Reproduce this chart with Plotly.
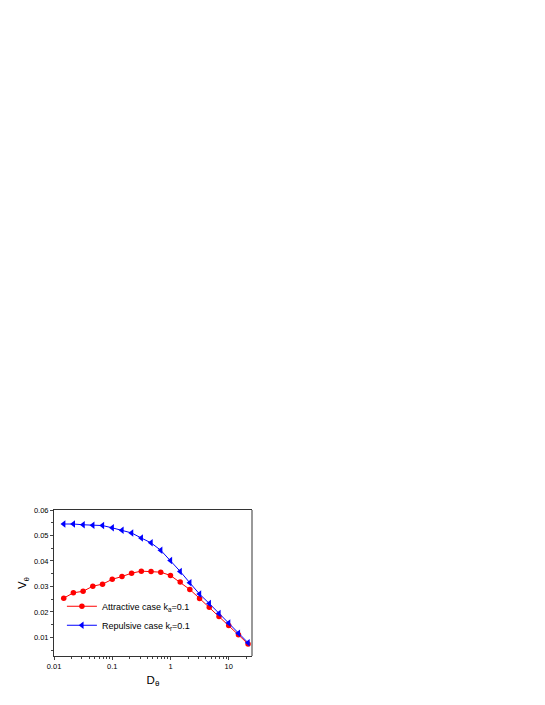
import plotly.graph_objects as go

# D_theta values (log spaced)
d_theta = [0.0147, 0.0215, 0.0316, 0.0464, 0.0681, 0.1, 0.147, 0.215, 0.316, 0.464,
           0.681, 1.0, 1.47, 2.15, 3.16, 4.64, 6.81, 10.0, 14.7, 21.5]

v_attractive = [0.0254, 0.0275, 0.0281, 0.0301, 0.0309, 0.0328, 0.0339, 0.0352, 0.0360, 0.0359,
                0.0356, 0.0343, 0.0317, 0.0288, 0.0253, 0.0218, 0.0182, 0.0147, 0.0110, 0.0074]

v_repulsive = [0.0545, 0.0545, 0.0542, 0.0540, 0.0539, 0.0530, 0.0521, 0.0510, 0.0490, 0.0471,
               0.0442, 0.0402, 0.0359, 0.0314, 0.0270, 0.0233, 0.0194, 0.0157, 0.0116, 0.0079]

fig = go.Figure()

fig.add_trace(go.Scatter(x=d_theta, y=v_attractive, mode='lines+markers',
                         name='Attractive case k<sub>a</sub>=0.1',
                         line={'width': 1, 'color': '#ff0000'},
                         marker={'symbol': 'circle', 'size': 5.5, 'color': '#ff0000'}))
fig.add_trace(go.Scatter(x=d_theta, y=v_repulsive, mode='lines+markers',
                         name='Repulsive case k<sub>r</sub>=0.1',
                         line={'width': 1, 'color': '#0000ff'},
                         marker={'symbol': 'triangle-left', 'size': 6.5, 'color': '#0000ff'}))

# grey right border like the original
fig.add_shape(type='line', xref='paper', yref='paper', x0=1, x1=1, y0=0, y1=1,
              line={'color': '#999999', 'width': 2})

# page body adds an 8px offset, margins compensate for it
fig.update_layout(
    width=545, height=705,
    margin={'l': 46, 'r': 301, 't': 502, 'b': 57, 'autoexpand': False},
    paper_bgcolor='white', plot_bgcolor='white',
    font={'family': 'Liberation Sans, Arial', 'color': 'black', 'size': 7.5},
    showlegend=True,
    legend={'x': 0.04, 'y': 0.44, 'xanchor': 'left', 'yanchor': 'top',
            'bgcolor': 'rgba(0,0,0,0)', 'font': {'size': 9},
            'itemwidth': 30, 'tracegroupgap': 0},
    xaxis={'type': 'log', 'range': [-2, 1.4], 'automargin': False,
           'tickvals': [0.01, 0.1, 1, 10], 'ticktext': ['0.01', '0.1', '1', '10'],
           'ticks': 'outside', 'ticklen': 3, 'tickwidth': 1,
           'minor': {'ticks': 'outside', 'ticklen': 2,
                     'tickvals': [0.02, 0.03, 0.04, 0.05, 0.06, 0.07, 0.08, 0.09,
                                  0.2, 0.3, 0.4, 0.5, 0.6, 0.7, 0.8, 0.9,
                                  2, 3, 4, 5, 6, 7, 8, 9, 20]},
           'showline': True, 'linecolor': '#333333', 'linewidth': 1, 'mirror': True,
           'showgrid': False, 'zeroline': False,
           'title': {'text': 'D<sub>θ</sub>', 'font': {'size': 11.5}, 'standoff': 5}},
    yaxis={'range': [0.0027, 0.06], 'dtick': 0.01, 'tick0': 0, 'automargin': False,
           'tickformat': '.2f',
           'ticks': 'outside', 'ticklen': 3, 'tickwidth': 1,
           'minor': {'ticks': 'outside', 'ticklen': 2, 'dtick': 0.005},
           'showline': True, 'linecolor': '#333333', 'linewidth': 1,
           'showgrid': False, 'zeroline': False,
           'title': {'text': 'V<sub>θ</sub>', 'font': {'size': 11.5}, 'standoff': 4}},
)

fig.write_html("out.html")
